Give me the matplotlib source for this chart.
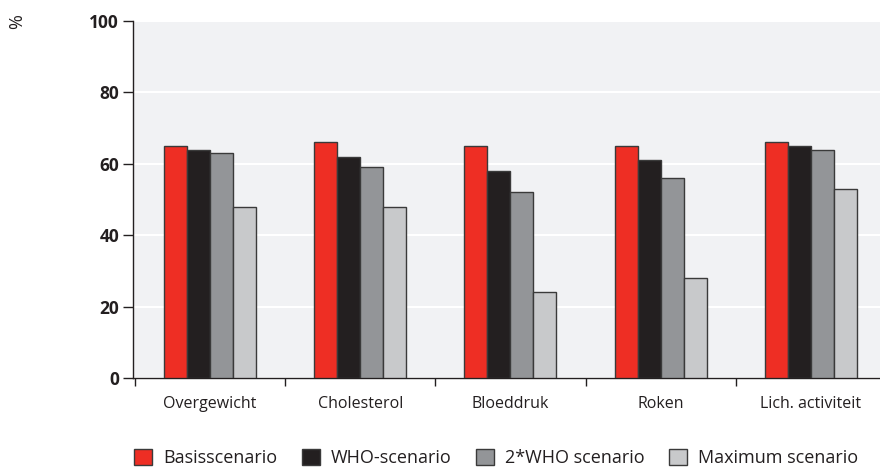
import numpy as np
import matplotlib.pyplot as plt

# categories and scenario values (%)
categories = ['Overgewicht', 'Cholesterol', 'Bloeddruk', 'Roken', 'Lich. activiteit']
basis = [65, 66, 65, 65, 66]
who = [64, 62, 58, 61, 65]
who2 = [63, 59, 52, 56, 64]
maximum = [48, 48, 24, 28, 53]

series = [basis, who, who2, maximum]
labels = ['Basisscenario', 'WHO-scenario', '2*WHO scenario', 'Maximum scenario']
colors = ['#EE2E24', '#231F20', '#939598', '#C8C9CB']

plt.rcParams['font.family'] = ['Open Sans', 'DejaVu Sans']

fig = plt.figure(figsize=(8.8, 4.68), dpi=100)
ax = fig.add_axes([133/880, 90/468, 1 - 133/880, 357/468])
ax.set_facecolor('#F1F2F4')

x = np.arange(len(categories))
w = 0.153
for i, (vals, lab, col) in enumerate(zip(series, labels, colors)):
    ax.bar(x + (i - 1.5) * w, vals, w, color=col, edgecolor='#3a3a3a',
           linewidth=1.0, label=lab, zorder=3)

ax.set_ylim(0, 100)
ax.set_xlim(-0.512, 4.459)
ax.set_yticks([0, 20, 40, 60, 80, 100])
ax.yaxis.grid(True, color='white', linewidth=1.5, zorder=0)
ax.set_axisbelow(True)

ax.set_xticks(x)
ax.set_xticklabels(categories, fontsize=11.5, color='#231F20')
ax.tick_params(axis='x', length=0, pad=13)
ax.set_xticks(np.arange(-0.5, 4.5, 1), minor=True)
ax.tick_params(axis='x', which='minor', length=6, width=1, color='#231F20')
ax.tick_params(axis='y', length=7, width=1, color='#231F20', pad=3)
for t in ax.get_yticklabels():
    t.set_fontweight('bold')
    t.set_fontsize(12.5)
    t.set_color('#231F20')

for s in ['top', 'right']:
    ax.spines[s].set_visible(False)
for s in ['left', 'bottom']:
    ax.spines[s].set_color('#231F20')
    ax.spines[s].set_linewidth(1.0)

fig.text(17/880, 1 - 22/468, '%', rotation=90, ha='center', va='center',
         fontsize=13, color='#231F20')

leg = fig.legend(loc='center', bbox_to_anchor=(496/880, 10/468), ncol=4,
                 frameon=False, fontsize=13, handlelength=1.0, handleheight=1.0,
                 handletextpad=0.6, columnspacing=1.35)
for t in leg.get_texts():
    t.set_color('#231F20')

fig.savefig('out.png', dpi=100)
